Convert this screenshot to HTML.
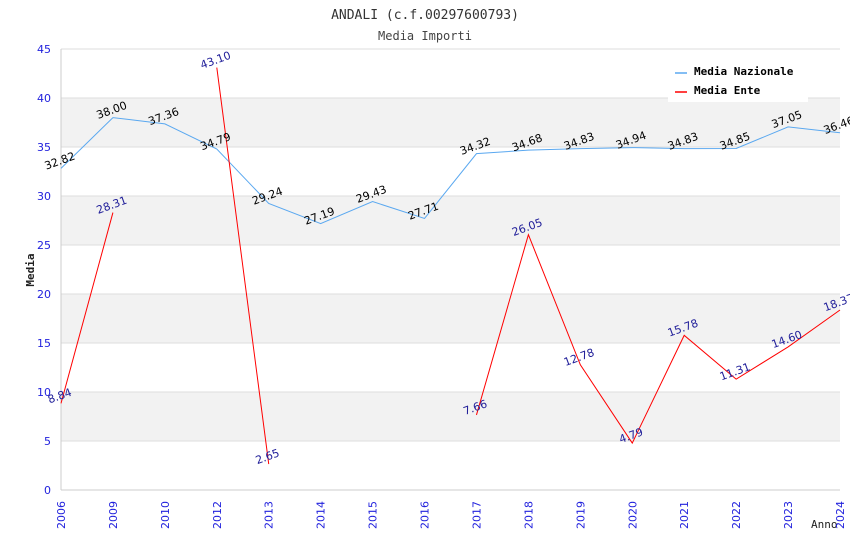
<!DOCTYPE html>
<html><head><meta charset="utf-8"><style>
body{margin:0;background:#fff}
svg{display:block}
text{font-family:"DejaVu Sans",sans-serif}
</style></head><body>
<svg id="chart" width="850" height="550">
<text x="425" y="19" text-anchor="middle" font-family="DejaVu Sans Mono,monospace" font-size="13" fill="#333" style="font-family:'DejaVu Sans Mono',monospace">ANDALI (c.f.00297600793)</text>
<text x="425" y="40" text-anchor="middle" font-size="12" fill="#444" style="font-family:'DejaVu Sans Mono',monospace">Media Importi</text>
<text x="34" y="270" text-anchor="middle" font-size="11" font-weight="bold" fill="#222" transform="rotate(-90 34 270)" style="font-family:'DejaVu Sans Mono',monospace">Media</text>
<text x="811" y="528" font-size="11" fill="#222" style="font-family:'DejaVu Sans Mono',monospace">Anno</text>
<g id="bands"></g><g id="grid"></g><g id="axes"></g><g id="series"></g><g id="labels"></g>
<g>
<rect x="668" y="60" width="140" height="42" fill="#fff"/>
<line x1="675" y1="73" x2="687" y2="73" stroke="#5aa8f0" stroke-width="1.5"/>
<text x="694" y="75" font-size="11" font-weight="bold" fill="#000" style="font-family:'DejaVu Sans Mono',monospace">Media Nazionale</text>
<line x1="675" y1="92" x2="687" y2="92" stroke="#f00" stroke-width="1.5"/>
<text x="694" y="94" font-size="11" font-weight="bold" fill="#000" style="font-family:'DejaVu Sans Mono',monospace">Media Ente</text>
</g>
</svg>
<script>
const categories=["2006","2009","2010","2012","2013","2014","2015","2016","2017","2018","2019","2020","2021","2022","2023","2024"];
const nazionale=[32.82,38.00,37.36,34.79,29.24,27.19,29.43,27.71,34.32,34.68,34.83,34.94,34.83,34.85,37.05,36.46];
const ente=[8.84,28.31,null,43.10,2.65,null,null,null,7.66,26.05,12.78,4.79,15.78,11.31,14.60,18.37];
const yTicks=[0,5,10,15,20,25,30,35,40,45];
const NS="http://www.w3.org/2000/svg";
const X0=61,X1=840,Y0=490,Y1=49,YMAX=45;
const x=i=>X0+i*(X1-X0)/(categories.length-1);
const y=v=>Y0-v*(Y0-Y1)/YMAX;
function mk(tag,attrs,parent){const e=document.createElementNS(NS,tag);for(const k in attrs)e.setAttribute(k,attrs[k]);document.getElementById(parent).appendChild(e);return e;}
for(let i=0;i<yTicks.length-1;i++){
 if(i%2===1){const r=mk('rect',{x:X0,y:y(yTicks[i+1]),width:X1-X0,height:y(yTicks[i])-y(yTicks[i+1]),fill:'#f2f2f2'},'bands');
 
 }
}
yTicks.forEach(t=>{
 const l=mk('line',{x1:X0,x2:X1,y1:y(t),y2:y(t),stroke:'#ddd'},'grid');
 
 
 const tx=mk('text',{x:X0-10,y:y(t)+4,'text-anchor':'end','font-size':11,fill:'#22d'},'axes');
 
 
 tx.textContent=t;
});
const ax=mk('line',{x1:X0,x2:X0,y1:Y1,y2:Y0,stroke:'#ccc'},'axes');


const ax2=mk('line',{x1:X0,x2:X1,y1:Y0,y2:Y0,stroke:'#ccc'},'axes');


categories.forEach((c,i)=>{
 const t=mk('text',{x:x(i)+4,y:501,'text-anchor':'end','font-size':11,fill:'#22d',transform:`rotate(-90 ${x(i)+4} 501)`},'axes');
 
 
 t.textContent=c;
});
function series(data,color,lblColor,name){
 let d='',pen=false;
 data.forEach((v,i)=>{if(v==null){pen=false;return;}d+=(pen?'L':'M')+x(i)+' '+y(v)+' ';pen=true;});
 const p=mk('path',{d,fill:'none',stroke:color,'stroke-width':1},'series');
 
 
 data.forEach((v,i)=>{if(v==null)return;
  const tx=x(i),ty=y(v)-4;
  const t=mk('text',{x:tx,y:ty,'text-anchor':'middle','font-size':11,fill:lblColor,transform:`rotate(-20 ${tx} ${ty})`},'labels');
  
  
  t.textContent=v.toFixed(2);});
}
series(nazionale,'#5aa8f0','#000','nazionale');
series(ente,'#f00','#22209a','ente');
</script>
</body></html>
